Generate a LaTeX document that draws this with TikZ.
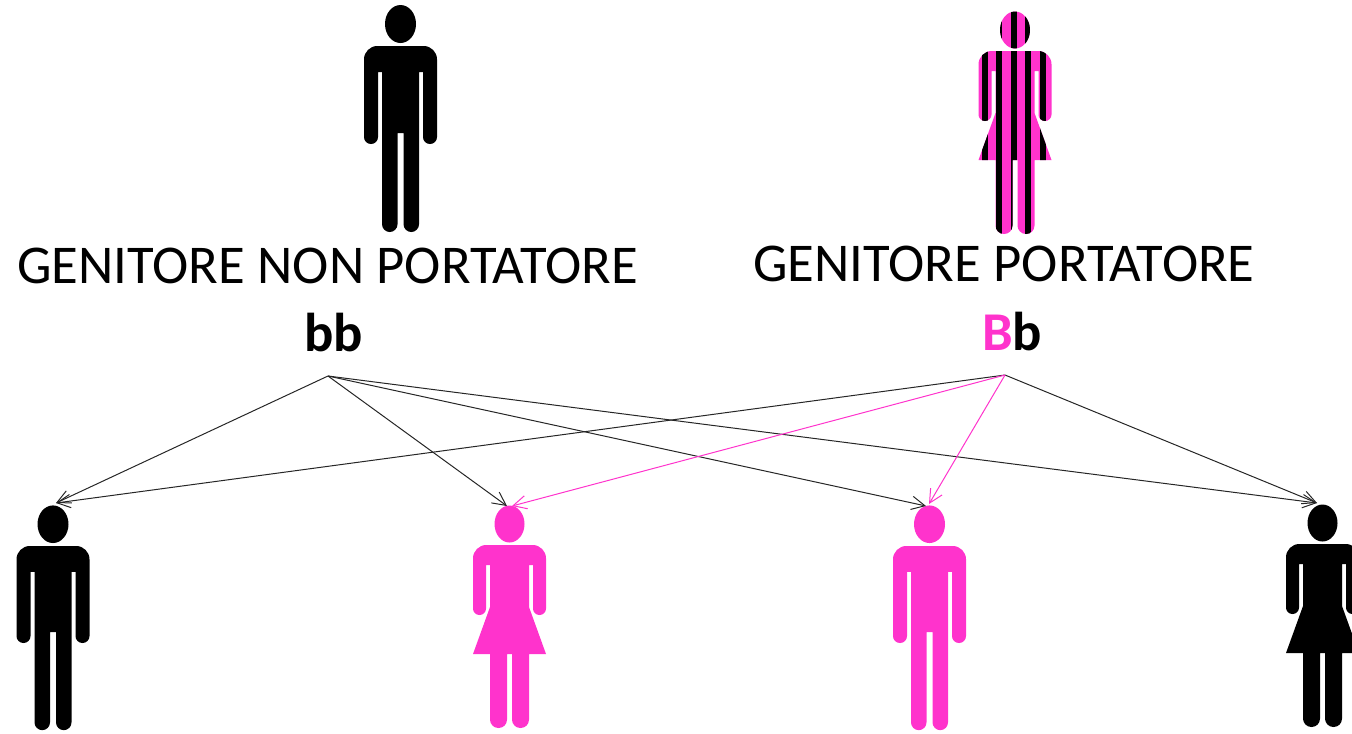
\documentclass[tikz,border=0pt]{standalone}
\usepackage{fontspec}
\setmainfont{Carlito}
\usetikzlibrary{arrows.meta}
\definecolor{rosa}{RGB}{255,51,204}
% outlines of the two figures, y = 0 on the shoulders
\newcommand{\omino}{(0,-22) ellipse [x radius=15.5, y radius=19]
    (0,0) [rounded corners=10pt] -- (36.5,0) [rounded corners=5.2pt] -- (36.5,98) -- (22.5,98)
    [sharp corners] -- (22.5,26) -- (18.5,26) [rounded corners=5.8pt] -- (18.5,186) -- (3,186)
    [sharp corners] -- (3,87) -- (-3,87) [rounded corners=5.8pt] -- (-3,186) -- (-18.5,186)
    [sharp corners] -- (-18.5,26) -- (-22.5,26) [rounded corners=5.2pt] -- (-22.5,98) -- (-36.5,98)
    [rounded corners=10pt] -- (-36.5,0) [sharp corners] -- cycle}
\newcommand{\donna}{(0,-21) ellipse [x radius=15, y radius=18.5]
    (0,0) [rounded corners=10pt] -- (36.5,0) [rounded corners=4.8pt] -- (36.5,70) -- (23.5,70)
    [sharp corners] -- (23.5,20) -- (19.5,20) -- (19.5,62) -- (36.5,109) -- (19.5,109)
    [rounded corners=6.3pt] -- (19.5,183) -- (2.5,183) [sharp corners] -- (2.5,109) -- (-2.5,109)
    [rounded corners=6.3pt] -- (-2.5,183) -- (-19.5,183) [sharp corners] -- (-19.5,109) -- (-36.5,109)
    -- (-19.5,62) -- (-19.5,20) -- (-23.5,20) [rounded corners=4.8pt] -- (-23.5,70) -- (-36.5,70)
    [rounded corners=10pt] -- (-36.5,0) [sharp corners] -- cycle}
\tikzset{
    x=.75pt,y=-.75pt,
    freccia/.style={-{Straight Barb[length=10pt,width=10pt]},line width=.75pt,black!85},
    frecciarosa/.style={freccia,rosa},
    scritta/.style={font=\fontsize{41}{44}\selectfont,inner sep=0pt},
    sigla/.style={font=\fontsize{41}{44}\selectfont\bfseries,inner sep=0pt},
    pics/uomo/.style={code={\fill[pic actions] \omino;}},
    pics/femmina/.style={code={\fill[pic actions] \donna;}},
    pics/portatrice/.style={code={
        \fill[rosa] \donna;
        \begin{scope}
        \clip \donna;
        \foreach \x in {-30.5,-16,-1.5,13,27.5}{\fill (\x-3,-45) rectangle (\x+3,190);}
        \end{scope}}}
}
\begin{document}
\begin{tikzpicture}
    \useasboundingbox (0,0) rectangle (1352,733);
    \pic (padre) at (400.5,46) {uomo};
    \pic (madre) at (1015,51) {portatrice};
    \pic[yscale=.99] (f1) at (53,546) {uomo};
    \pic[fill=rosa] (f2) at (509.5,545) {femmina};
    \pic[fill=rosa,yscale=.99] (f3) at (929.5,546) {uomo};
    \pic (f4) at (1322.5,544) {femmina};
    \node[scritta] (gen1) at (327.5,266) {GENITORE NON PORTATORE};
    \node[scritta] (gen2) at (1004,264) {GENITORE PORTATORE};
    \node[sigla] (bb) at (333.5,333) {bb};
    \node[sigla] (Bb) at (1012,332) {\textcolor{rosa}{B}b};
    \coordinate (a) at (328,376);
    \coordinate (b) at (1005,375);
    \coordinate (t1) at (56,503);
    \coordinate (t2) at (507,506);
    \coordinate (t2r) at (512,506);
    \coordinate (t3) at (926,506);
    \coordinate (t3r) at (929,504);
    \coordinate (t4) at (1317,503);
    \foreach \t in {t1,t2,t3,t4}{\draw[freccia] (a)--(\t);}
    \foreach \t in {t1,t4}{\draw[freccia] (b)--(\t);}
    \foreach \t in {t2r,t3r}{\draw[frecciarosa] (b)--(\t);}
\end{tikzpicture}
\end{document}
